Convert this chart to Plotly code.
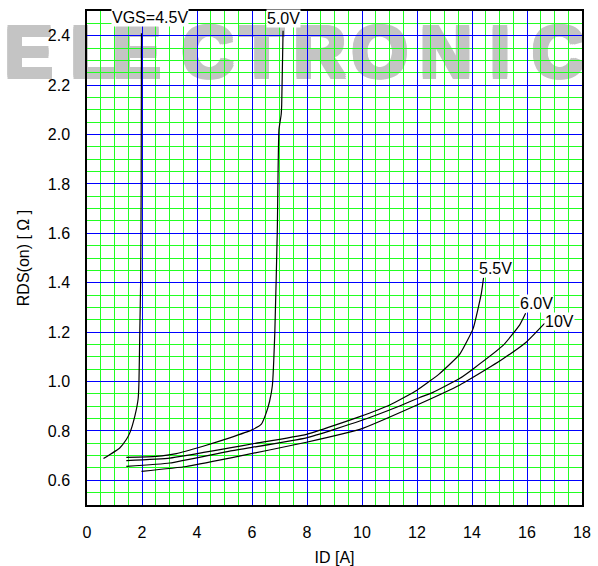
import plotly.graph_objects as go

# Drain-source on-resistance vs drain current, one curve per gate voltage
id_45 = [0.60, 1.19, 1.43, 1.56, 1.74, 1.86, 1.89, 1.92, 1.95, 1.97, 1.98]
r_45 = [0.688, 0.731, 0.765, 0.793, 0.860, 0.930, 1.00, 1.20, 1.40, 1.80, 2.41]

id_50 = [1.43, 2.52, 3.25, 4.22, 5.19, 5.98, 6.34, 6.52, 6.64, 6.74, 6.83, 6.92, 6.98, 7.06, 7.08, 7.13]
r_50 = [0.693, 0.697, 0.708, 0.738, 0.772, 0.803, 0.827, 0.874, 0.920, 0.983, 1.20, 1.61, 2.02, 2.08, 2.12, 2.42]

id_55 = [1.43, 3.01, 5.19, 6.04, 7.98, 9.92, 11.01, 12.00, 12.80, 13.55, 14.04, 14.34, 14.42]
r_55 = [0.680, 0.690, 0.731, 0.748, 0.786, 0.858, 0.905, 0.965, 1.030, 1.110, 1.214, 1.357, 1.420]

id_60 = [1.43, 3.01, 5.19, 7.98, 9.92, 11.37, 12.10, 12.58, 13.56, 14.04, 15.13, 15.73, 15.95]
r_60 = [0.656, 0.670, 0.718, 0.772, 0.840, 0.901, 0.935, 0.956, 1.013, 1.051, 1.146, 1.228, 1.276]

id_10 = [1.98, 3.61, 5.19, 7.98, 9.92, 12.00, 13.56, 14.04, 15.13, 15.98, 16.64]
r_10 = [0.636, 0.656, 0.690, 0.754, 0.806, 0.905, 0.986, 1.017, 1.092, 1.160, 1.235]

curve_names = ["VGS=4.5V", "5.0V", "5.5V", "6.0V", "10V"]
curve_ids = [id_45, id_50, id_55, id_60, id_10]
curve_rs = [r_45, r_50, r_55, r_60, r_10]

# label anchor points (ID, RDS) for each curve
label_x = [2.28, 7.15, 14.86, 16.35, 17.19]
label_y = [2.473, 2.471, 1.459, 1.316, 1.243]

brand = "ELECTRONIC"
brand_x = [29, 93, 137, 208, 262, 320, 380, 446, 500, 558]

W, H = 598, 566
FONT = "Liberation Sans, Arial, sans-serif"
GREY = "#c4c4c4"

fig = go.Figure()
for name, xs, ys in zip(curve_names, curve_ids, curve_rs):
    fig.add_trace(go.Scatter(
        x=xs, y=ys, mode="lines", name=name,
        line=dict(color="black", width=1.2, shape="spline", smoothing=0.4),
        showlegend=False, hoverinfo="skip",
    ))

for name, lx, ly in zip(curve_names, label_x, label_y):
    fig.add_annotation(
        x=lx, y=ly, text=name, showarrow=False,
        font=dict(family=FONT, size=16, color="black"),
        bgcolor="white", borderpad=0,
    )

# heavy grey brand lettering sitting beneath the grid
heavy = ", ".join(f"{dx}px {dy}px 0 {GREY}" for dx, dy in
                  [(2, 0), (-2, 0), (0, 2), (0, -2), (2, 2), (-2, -2), (2, -2), (-2, 2)])
shapes = []
for ch, cx in zip(brand, brand_x):
    shapes.append(dict(
        type="rect", xref="paper", yref="paper", layer="below",
        x0=(cx - 40 - 87.3) / (582 - 87.3), x1=(cx + 40 - 87.3) / (582 - 87.3),
        y0=(505 - 75) / (505 - 11.2), y1=(505 - 15) / (505 - 11.2),
        line=dict(width=0), fillcolor="rgba(0,0,0,0)",
        label=dict(text=ch, textposition="middle center",
                   font=dict(family="Liberation Sans Narrow, Liberation Sans, Arial", size=72,
                             color=GREY, weight="bold", shadow=heavy)),
    ))

fig.update_layout(
    width=W, height=H,
    margin=dict(l=87, r=16, t=11, b=61),
    paper_bgcolor="white", plot_bgcolor="white",
    shapes=shapes,
    font=dict(family=FONT, size=16, color="black"),
)

fig.update_xaxes(
    range=[0, 18], tickmode="linear", tick0=0, dtick=2, automargin=False,
    showgrid=True, gridcolor="#0000ff", gridwidth=1,
    minor=dict(tickmode="linear", tick0=0, dtick=0.5, showgrid=True,
               gridcolor="#22ff22", gridwidth=1, ticks=""),
    showline=True, linecolor="black", linewidth=1.5, mirror=True,
    ticks="", ticklabelstandoff=12, zeroline=False,
    title=dict(text="ID [A]", font=dict(size=16), standoff=13),
)
fig.update_yaxes(
    range=[0.5, 2.5], tickmode="linear", tick0=0.6, dtick=0.2, tickformat=".1f",
    automargin=False,
    showgrid=True, gridcolor="#0000ff", gridwidth=1,
    minor=dict(tickmode="linear", tick0=0.5, dtick=0.05, showgrid=True,
               gridcolor="#22ff22", gridwidth=1, ticks=""),
    showline=True, linecolor="black", linewidth=1.5, mirror=True,
    ticks="", ticklabelstandoff=12, zeroline=False,
    title=dict(text="RDS(on) [ Ω ]", font=dict(size=16), standoff=14),
)

fig.write_html("out.html")
